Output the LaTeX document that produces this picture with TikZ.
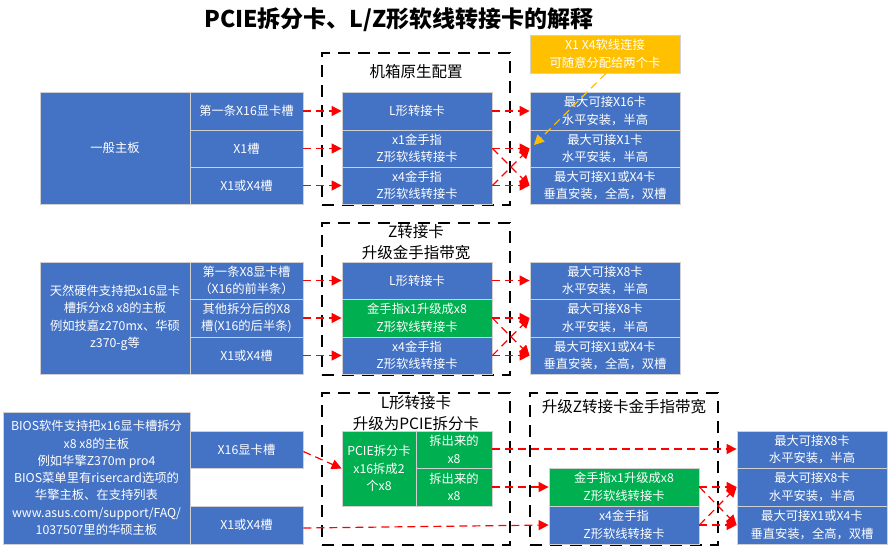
\documentclass[tikz,border=0pt]{standalone}
\usepackage{fontspec}
\setmainfont{Noto Sans CJK SC}
\usetikzlibrary{arrows.meta}
\definecolor{cblue}{HTML}{4472C4}
\definecolor{cgreen}{HTML}{00B050}
\definecolor{cyellow}{HTML}{FFC000}
\definecolor{cline}{HTML}{D0D0D0}
\tikzset{
  sz/.style 2 args={minimum width=#1pt, minimum height=#2pt},
  cell/.style={draw=cline, line width=0.8pt, fill=cblue, text=white, inner sep=0pt, align=center, font=\fontsize{12.3}{17.5}\selectfont},
  gcell/.style={cell, fill=cgreen},
  ycell/.style={cell, fill=cyellow},
  frame/.style={draw=black, line width=1.6pt, dash pattern=on 12pt off 8pt, inner sep=0pt},
  lab/.style={font=\fontsize{15.5}{21}\selectfont, align=center, inner sep=0pt},
  conn/.style={draw=red, line width=1.2pt, dash pattern=on 8pt off 5pt, -{Triangle[length=10pt,width=10pt]}},
  yconn/.style={conn, draw=cyellow},
}
\begin{document}
\begin{tikzpicture}[x=1pt, y=-1pt]
\useasboundingbox (0,0) rectangle (889,549);
\node[font=\fontsize{23}{27}\selectfont\bfseries, inner sep=0pt] (title) at (399,20) {PCIE拆分卡、L/Z形软线转接卡的解释};

% frames
\node[frame, sz={188}{152}] (d1) at (416,129) {};
\node[frame, sz={188}{152}] (d2) at (416,299) {};
\node[frame, sz={188}{152}] (d3) at (416,469) {};
\node[frame, sz={188}{152}] (d4) at (624,469) {};
\node[lab] (l1) at (416,72) {机箱原生配置};
\node[lab] (l2) at (416,242) {Z转接卡\\升级金手指带宽};
\node[lab] (l3) at (416,413) {L形转接卡\\升级为PCIE拆分卡};
\node[lab] (l4) at (624,407) {升级Z转接卡金手指带宽};

% section 1
\node[cell, sz={150}{112}] (gm1) at (115,148) {一般主板};
\node[cell, sz={113}{38}] (s1a) at (246.5,111) {第一条X16显卡槽};
\node[cell, sz={113}{37}] (s1b) at (246.5,148.5) {X1槽};
\node[cell, sz={113}{37}] (s1c) at (246.5,185.5) {X1或X4槽};
\node[cell, sz={150}{38}] (m1a) at (417,111) {L形转接卡};
\node[cell, sz={150}{37}] (m1b) at (417,148.5) {x1金手指\\Z形软线转接卡};
\node[cell, sz={150}{37}] (m1c) at (417,185.5) {x4金手指\\Z形软线转接卡};
\node[cell, sz={150}{38}] (r1a) at (605,111) {最大可接X16卡\\水平安装，半高};
\node[cell, sz={150}{37}] (r1b) at (605,148.5) {最大可接X1卡\\水平安装，半高};
\node[cell, sz={150}{37}] (r1c) at (605,185.5) {最大可接X1或X4卡\\垂直安装，全高，双槽};
\node[ycell, sz={150}{38}] (y1) at (605,54) {X1 X4软线连接\\可随意分配给两个卡};
\coordinate (ytip) at (534,145);

% section 2
\node[cell, sz={150}{112}] (gm2) at (115,318) {天然硬件支持把x16显卡\\槽拆分x8 x8的主板\\例如技嘉z270mx、华硕\\z370-g等};
\node[cell, sz={113}{37}] (s2a) at (246.5,280.5) {第一条X8显卡槽\\（X16的前半条）};
\node[cell, sz={113}{38}] (s2b) at (246.5,318) {其他拆分后的X8\\槽(X16的后半条)};
\node[cell, sz={113}{37}] (s2c) at (246.5,355.5) {X1或X4槽};
\node[cell, sz={150}{37}] (m2a) at (417,280.5) {L形转接卡};
\node[gcell, sz={150}{38}] (m2b) at (417,318) {金手指x1升级成x8\\Z形软线转接卡};
\node[cell, sz={150}{37}] (m2c) at (417,355.5) {x4金手指\\Z形软线转接卡};
\node[cell, sz={150}{37}] (r2a) at (605,280.5) {最大可接X8卡\\水平安装，半高};
\node[cell, sz={150}{38}] (r2b) at (605,318) {最大可接X8卡\\水平安装，半高};
\node[cell, sz={150}{37}] (r2c) at (605,355.5) {最大可接X1或X4卡\\垂直安装，全高，双槽};

% section 3
\node[cell, sz={187}{132}, font=\fontsize{12.3}{17.3}\selectfont] (gm3) at (96.5,478) {BIOS软件支持把x16显卡槽拆分\\x8 x8的主板\\例如华擎Z370m pro4\\BIOS菜单里有risercard选项的\\华擎主板、在支持列表\\www.asus.com/support/FAQ/\\1037507里的华硕主板};
\node[cell, sz={113}{37}] (s3a) at (246.5,449.5) {X16显卡槽};
\node[cell, sz={113}{38}] (s3b) at (246.5,525) {X1或X4槽};
\node[gcell, sz={74}{75}] (pc) at (379,468.5) {PCIE拆分卡\\x16拆成2\\个x8};
\node[gcell, sz={76}{37}] (ch1) at (454,449.5) {拆出来的\\x8};
\node[gcell, sz={76}{38}] (ch2) at (454,487) {拆出来的\\x8};
\node[gcell, sz={150}{38}] (z1) at (624,487) {金手指x1升级成x8\\Z形软线转接卡};
\node[cell, sz={150}{38}] (z2) at (624,525) {x4金手指\\Z形软线转接卡};
\node[cell, sz={150}{37}] (r3a) at (812,449.5) {最大可接X8卡\\水平安装，半高};
\node[cell, sz={150}{38}] (r3b) at (812,487) {最大可接X8卡\\水平安装，半高};
\node[cell, sz={150}{38}] (r3c) at (812,525) {最大可接X1或X4卡\\垂直安装，全高，双槽};

% connectors section 1
\draw[conn] (s1a.east) -- (m1a.west);
\draw[conn] (s1b.east) -- (m1b.west);
\draw[conn] (s1c.east) -- (m1c.west);
\draw[conn] (m1a.east) -- (r1a.west);
\draw[conn] (m1b.east) -- (r1b.west);
\draw[conn] (m1b.east) -- (r1c.west);
\draw[conn] (m1c.east) -- (r1b.west);
\draw[conn] (m1c.east) -- (r1c.west);
\draw[yconn] ([xshift=1pt]y1.south) -- (ytip);

% connectors section 2
\draw[conn] (s2a.east) -- (m2a.west);
\draw[conn] (s2b.east) -- (m2b.west);
\draw[conn] (s2c.east) -- (m2c.west);
\draw[conn] (m2a.east) -- (r2a.west);
\draw[conn] (m2b.east) -- (r2b.west);
\draw[conn] (m2b.east) -- (r2c.west);
\draw[conn] (m2c.east) -- (r2b.west);
\draw[conn] (m2c.east) -- (r2c.west);

% connectors section 3
\draw[conn] ([yshift=-2pt]s3a.east) -- (pc.west);
\draw[conn] ([yshift=-3pt]s3b.east) -- (z2.west);
\draw[conn] ([yshift=0.5pt]ch1.east) -- ([yshift=0.5pt]r3a.west);
\draw[conn] (ch2.east) -- (z1.west);
\draw[conn] (z1.east) -- (r3b.west);
\draw[conn] (z1.east) -- (r3c.west);
\draw[conn] (z2.east) -- (r3b.west);
\draw[conn] (z2.east) -- (r3c.west);
\end{tikzpicture}
\end{document}
